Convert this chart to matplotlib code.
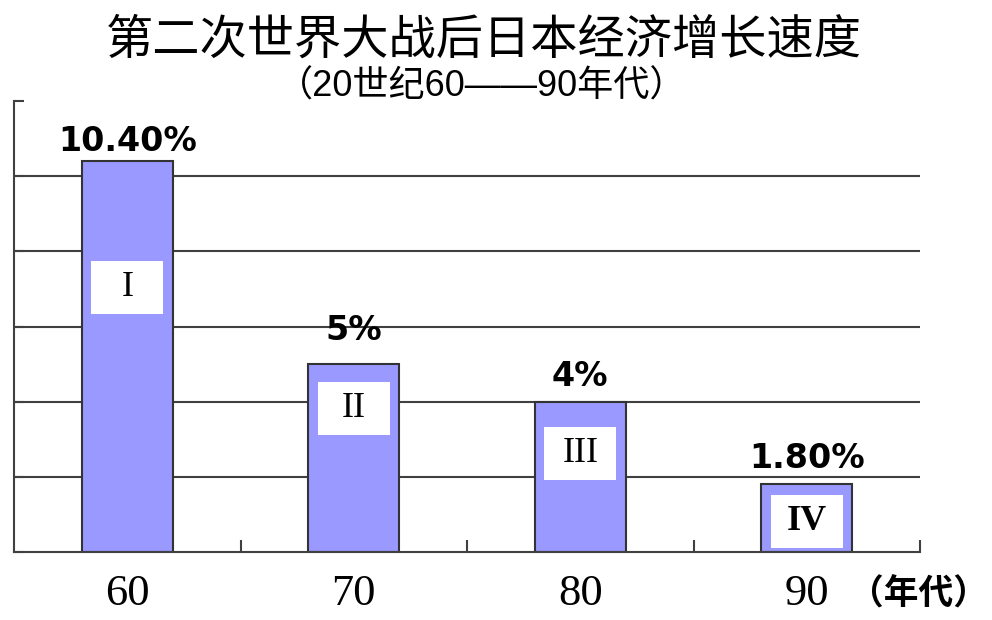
import matplotlib
matplotlib.use("Agg")
import matplotlib.pyplot as plt
from matplotlib.patches import Rectangle

plt.rcParams['font.family'] = ['Noto Sans CJK SC', 'DejaVu Sans']

# ---- data ----
decades = ["60", "70", "80", "90"]
growth = [10.4, 5.0, 4.0, 1.8]
value_labels = ["10.40%", "5%", "4%", "1.80%"]
roman = ["I", "II", "III", "IV"]
title = "第二次世界大战后日本经济增长速度"
subtitle = "（20世纪60——90年代）"
unit_label = "（年代）"

# ---- layout (not data) ----
box_centers = [7.05, 3.83, 2.63, 0.82]     # y centre of white boxes
label_offsets_pt = [7, 17, 11, 12]         # gap above bar for value labels
roman_bold = [False, False, False, True]

fig = plt.figure(figsize=(9.92, 6.20), dpi=100)
ax = fig.add_axes([14/992, 68/620, 906/992, 451/620])

x = list(range(len(decades)))
ax.bar(x, growth, width=0.4, color="#9999FF", edgecolor="#333333",
       linewidth=1.5, zorder=2)

ax.set_xlim(-0.5, 3.5)
ax.set_ylim(0, 12)
ax.set_yticks([0, 2, 4, 6, 8, 10, 12])
ax.set_yticklabels([])
ax.tick_params(axis='y', direction='in', length=7, width=1.5, color="#404040")
for yv in [2, 4, 6, 8, 10]:
    ax.axhline(yv, color="#404040", linewidth=1.5, zorder=1)

ax.set_xticks(x)
ax.set_xticklabels(decades, fontfamily="Liberation Serif", fontsize=32)
ax.set_xticks([0.5, 1.5, 2.5, 3.5], minor=True)
ax.tick_params(axis='x', which='major', length=0, pad=16)
ax.tick_params(axis='x', which='minor', direction='in', length=9, width=1.5,
               color="#404040")

for s in ['top', 'right']:
    ax.spines[s].set_visible(False)
for s in ['left', 'bottom']:
    ax.spines[s].set_color("#404040")
    ax.spines[s].set_linewidth(1.5)

bw, bh = 72/226.5, 53/37.6
for xi, v, lab, off, yc, rn, rb in zip(x, growth, value_labels,
                                       label_offsets_pt, box_centers,
                                       roman, roman_bold):
    ax.annotate(lab, (xi, v), xytext=(0, off), textcoords="offset points",
                ha="center", va="baseline", fontsize=24, fontweight="bold",
                family="DejaVu Sans", zorder=4)
    ax.add_patch(Rectangle((xi - bw/2, yc - bh/2), bw, bh,
                           facecolor="white", edgecolor="none", zorder=3))
    ax.text(xi, yc, rn, ha="center", va="center",
            fontfamily="Liberation Serif", fontsize=26,
            fontweight="bold" if rb else "normal", zorder=4)

fig.text(484/992, 1 - 40/620, title, ha="center", va="center", fontsize=34)
fig.text(482/992, 1 - 87/620, subtitle, ha="center", va="center", fontsize=26,
         family=['Liberation Sans', 'Noto Sans CJK SC'])
fig.text(849/992, 1 - 594/620, unit_label, ha="left", va="center",
         fontsize=25, fontweight="bold")

fig.savefig("out.png", dpi=100)
